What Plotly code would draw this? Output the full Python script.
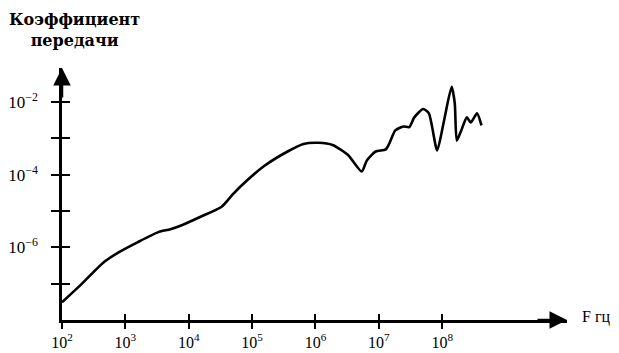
import plotly.graph_objects as go

# Frequency, Hz
freq = [1.0e2, 1.9e2, 4.47e2, 7.94e2, 1.55e3, 3.31e3, 5.13e3, 7.76e3, 1.48e4, 3.31e4,
        4.90e4, 6.76e4, 1.55e5, 3.63e5, 6.46e5, 1.12e6, 1.86e6, 3.24e6, 5.37e6, 6.46e6,
        8.91e6, 1.29e7, 1.48e7, 1.82e7, 2.45e7, 3.02e7, 3.63e7, 5.01e7, 6.17e7, 8.32e7,
        1.05e8, 1.41e8, 1.58e8, 1.70e8, 2.0e8, 2.45e8, 2.82e8, 3.55e8, 4.17e8]
# Transfer coefficient
gain = [3.09e-8, 8.7e-8, 3.8e-7, 7.4e-7, 1.38e-6, 2.63e-6, 3.16e-6, 4.07e-6, 6.76e-6, 1.32e-5,
        2.82e-5, 5.0e-5, 1.74e-4, 4.37e-4, 7.08e-4, 7.59e-4, 6.61e-4, 3.55e-4, 1.23e-4, 2.45e-4,
        4.37e-4, 5.01e-4, 7.59e-4, 1.66e-3, 2.14e-3, 2.04e-3, 3.80e-3, 6.46e-3, 4.90e-3, 4.68e-4,
        2.63e-3, 2.63e-2, 9.33e-3, 8.71e-4, 1.66e-3, 3.80e-3, 2.75e-3, 4.90e-3, 2.29e-3]

x_tickvals = [1e2, 1e3, 1e4, 1e5, 1e6, 1e7, 1e8]
x_ticktext = ["10<sup>2</sup>", "10<sup>3</sup>", "10<sup>4</sup>", "10<sup>5</sup>",
              "10<sup>6</sup>", "10<sup>7</sup>", "10<sup>8</sup>"]
y_tickvals = [1e-7, 1e-6, 1e-5, 1e-4, 1e-3, 1e-2]
y_ticktext = ["", "10<sup>−6</sup>", "", "10<sup>−4</sup>", "", "10<sup>−2</sup>"]

title_text = "<b>Коэффициент<br>передачи</b>"
x_label = "F гц"

serif = "Liberation Serif"
XR = [2, 9.97]
YR = [-8, -1.06]

fig = go.Figure()
fig.add_trace(go.Scatter(x=freq, y=gain, mode="lines",
                         line=dict(color="black", width=2.6, shape="spline", smoothing=0.6),
                         hoverinfo="skip", showlegend=False))
fig.add_trace(go.Scatter(x=[], y=[], xaxis="x2", yaxis="y2", showlegend=False))

common_x = dict(type="log", range=XR, showgrid=False, zeroline=False, automargin=False,
                tickvals=x_tickvals, tickcolor="black", tickwidth=2, ticklen=6)
common_y = dict(type="log", range=YR, showgrid=False, zeroline=False, automargin=False,
                tickvals=y_tickvals, tickcolor="black", tickwidth=2, ticklen=8)

arrow_common = dict(xref="paper", yref="paper", text="", showarrow=True, arrowhead=2,
                    arrowsize=1.4, arrowwidth=2.5, arrowcolor="black",
                    font=dict(size=1), borderpad=0)

fig.update_layout(
    width=611, height=345,
    margin=dict(l=54, r=52, t=60, b=33),
    paper_bgcolor="white", plot_bgcolor="white",
    xaxis=dict(**common_x, ticks="outside", ticktext=x_ticktext,
               showline=True, linecolor="black", linewidth=2.5,
               tickfont=dict(family=serif, size=16, color="black")),
    yaxis=dict(**common_y, ticks="outside", ticktext=y_ticktext,
               showline=True, linecolor="black", linewidth=2.5, ticklabelstandoff=10,
               tickfont=dict(family=serif, size=17, color="black")),
    xaxis2=dict(**common_x, ticks="inside", overlaying="x", anchor="y2",
                showticklabels=False, showline=False),
    yaxis2=dict(**common_y, ticks="inside", overlaying="y", anchor="x2",
                showticklabels=False, showline=False),
    annotations=[
        dict(**arrow_common, x=1, y=0, ax=-30, ay=0),
        dict(**arrow_common, x=0, y=1, ax=0, ay=30),
        dict(xref="paper", yref="paper", x=0.024, y=1.149, xanchor="center", yanchor="middle",
             text=title_text, showarrow=False, align="center",
             font=dict(family="DejaVu Serif", size=16, color="black")),
        dict(xref="paper", yref="paper", x=1.026, y=0.012, xanchor="left", yanchor="middle",
             text=x_label, showarrow=False,
             font=dict(family=serif, size=16, color="black")),
    ],
)

fig.write_html("out.html")
